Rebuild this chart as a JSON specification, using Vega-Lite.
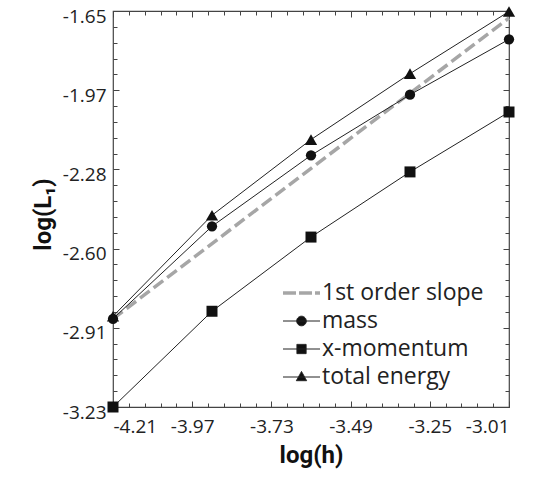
{
  "$schema": "https://vega.github.io/schema/vega-lite/v6.json",
  "autosize": "none",
  "width": 396,
  "height": 396,
  "padding": {"left": 113, "top": 11, "right": 27, "bottom": 77},
  "background": "white",
  "config": {
    "view": {"stroke": "#444", "strokeWidth": 1.2},
    "locale": {"number": {"decimal": ".", "thousands": ",", "grouping": [3], "currency": ["$", ""], "minus": "-"}},
    "axis": {"domain": false, "grid": false, "tickColor": "#444", "tickWidth": 1, "labelFont": "Open Sans", "labelFontSize": 19, "labelColor": "#222", "titleColor": "#111"},
    "legend": {"title": null, "orient": "none", "legendX": 168, "legendY": 269, "padding": 0, "symbolSize": 1369, "labelFont": "Open Sans", "labelFontSize": 23, "labelColor": "#222", "labelOffset": 0, "clipHeight": 26, "rowPadding": 2, "labelLimit": 300, "symbolOpacity": 1}
  },
  "data": {"values": [
    {"x": -4.21, "y": -2.878, "s": "1st order slope"},
    {"x": -3.01, "y": -1.678, "s": "1st order slope"},
    {"x": -4.21, "y": -2.878, "s": "mass"},
    {"x": -3.91, "y": -2.509, "s": "mass"},
    {"x": -3.61, "y": -2.226, "s": "mass"},
    {"x": -3.31, "y": -1.984, "s": "mass"},
    {"x": -3.01, "y": -1.763, "s": "mass"},
    {"x": -4.21, "y": -3.23, "s": "x-momentum"},
    {"x": -3.91, "y": -2.848, "s": "x-momentum"},
    {"x": -3.61, "y": -2.552, "s": "x-momentum"},
    {"x": -3.31, "y": -2.292, "s": "x-momentum"},
    {"x": -3.01, "y": -2.053, "s": "x-momentum"},
    {"x": -4.21, "y": -2.868, "s": "total energy"},
    {"x": -3.91, "y": -2.465, "s": "total energy"},
    {"x": -3.61, "y": -2.163, "s": "total energy"},
    {"x": -3.31, "y": -1.900, "s": "total energy"},
    {"x": -3.01, "y": -1.652, "s": "total energy"}
  ]},
  "resolve": {"axis": {"x": "independent", "y": "independent"}, "scale": {"shape": "independent", "size": "independent", "fill": "independent", "stroke": "independent", "strokeWidth": "independent", "strokeDash": "independent"}},
  "layer": [
    {
      "transform": [{"filter": "datum.s === '1st order slope'"}],
      "mark": {"type": "line", "color": "#a6a6a6", "strokeWidth": 3.5, "strokeDash": [12, 5]},
      "encoding": {
        "x": {"field": "x", "type": "quantitative", "scale": {"domain": [-4.21, -3.01], "nice": false, "zero": false},
          "axis": {"orient": "bottom", "offset": -6, "values": [-4.21, -3.97, -3.73, -3.49, -3.25, -3.01], "format": ".2f", "tickSize": 6, "labelPadding": 10, "title": "log(h)", "titleFont": "Roboto", "titleFontWeight": "bold", "titleFontSize": 24, "titleX": 198, "titleY": 54, "titleBaseline": "middle", "titleAlign": "center"}},
        "y": {"field": "y", "type": "quantitative", "scale": {"domain": [-3.23, -1.65], "nice": false, "zero": false},
          "axis": {"orient": "left", "offset": -6, "values": [-3.23, -2.914, -2.598, -2.282, -1.966, -1.65], "format": ".2f", "tickSize": 6, "labelPadding": 7, "labelOffset": 5, "title": "log(L₁)", "titleFont": "Roboto", "titleFontWeight": "bold", "titleFontSize": 24, "titleX": -76, "titleY": 203, "titleAngle": -90, "titleBaseline": "middle", "titleAlign": "center"}}
      }
    },
    {
      "transform": [{"filter": "datum.s !== '1st order slope'"}],
      "mark": {"type": "line", "color": "#222", "strokeWidth": 1},
      "encoding": {
        "detail": {"field": "s"},
        "x": {"field": "x", "type": "quantitative", "scale": {"domain": [-4.21, -3.01], "nice": false, "zero": false},
          "axis": {"orient": "top", "offset": -6, "values": [-4.21, -3.97, -3.73, -3.49, -3.25, -3.01], "tickSize": 6, "labels": false, "title": null}},
        "y": {"field": "y", "type": "quantitative", "scale": {"domain": [-3.23, -1.65], "nice": false, "zero": false},
          "axis": {"orient": "right", "offset": -6, "values": [-3.23, -2.914, -2.598, -2.282, -1.966, -1.65], "tickSize": 6, "labels": false, "title": null}}
      }
    },
    {
      "transform": [{"filter": "datum.s !== '1st order slope'"}],
      "mark": {"type": "point", "filled": true, "color": "#111", "opacity": 1},
      "encoding": {
        "x": {"field": "x", "type": "quantitative", "scale": {"domain": [-4.21, -3.01], "nice": false, "zero": false},
          "axis": {"orient": "bottom", "offset": -4, "values": [-4.162, -4.114, -4.066, -4.018, -3.922, -3.874, -3.826, -3.778, -3.682, -3.634, -3.586, -3.538, -3.442, -3.394, -3.346, -3.298, -3.202, -3.154, -3.106, -3.058], "tickSize": 4, "labels": false, "title": null}},
        "y": {"field": "y", "type": "quantitative", "scale": {"domain": [-3.23, -1.65], "nice": false, "zero": false},
          "axis": {"orient": "left", "offset": -4, "values": [-3.1668, -3.1036, -3.0404, -2.9772, -2.8508, -2.7876, -2.7244, -2.6612, -2.5348, -2.4716, -2.4084, -2.3452, -2.2188, -2.1556, -2.0924, -2.0292, -1.9028, -1.8396, -1.7764, -1.7132], "tickSize": 4, "labels": false, "title": null}},
        "shape": {"field": "s", "type": "nominal", "scale": {"domain": ["mass", "x-momentum", "total energy"], "range": ["circle", "square", "triangle-up"]}, "legend": null},
        "size": {"field": "s", "type": "nominal", "scale": {"type": "ordinal", "domain": ["mass", "x-momentum", "total energy"], "range": [105, 121, 150]}, "legend": null}
      }
    },
    {
      "mark": {"type": "point", "opacity": 0},
      "encoding": {
        "x": {"field": "x", "type": "quantitative", "scale": {"domain": [-4.21, -3.01], "nice": false, "zero": false},
          "axis": {"orient": "top", "offset": -4, "values": [-4.162, -4.114, -4.066, -4.018, -3.922, -3.874, -3.826, -3.778, -3.682, -3.634, -3.586, -3.538, -3.442, -3.394, -3.346, -3.298, -3.202, -3.154, -3.106, -3.058], "tickSize": 4, "labels": false, "title": null}},
        "y": {"field": "y", "type": "quantitative", "scale": {"domain": [-3.23, -1.65], "nice": false, "zero": false},
          "axis": {"orient": "right", "offset": -4, "values": [-3.1668, -3.1036, -3.0404, -2.9772, -2.8508, -2.7876, -2.7244, -2.6612, -2.5348, -2.4716, -2.4084, -2.3452, -2.2188, -2.1556, -2.0924, -2.0292, -1.9028, -1.8396, -1.7764, -1.7132], "tickSize": 4, "labels": false, "title": null}},
        "fill": {"field": "s", "type": "nominal", "scale": {"domain": ["1st order slope", "mass", "x-momentum", "total energy"], "range": ["transparent", "#111", "#111", "#111"]}},
        "stroke": {"field": "s", "type": "nominal", "scale": {"domain": ["1st order slope", "mass", "x-momentum", "total energy"], "range": ["#a6a6a6", "#222", "#222", "#222"]}},
        "strokeWidth": {"field": "s", "type": "nominal", "scale": {"type": "ordinal", "domain": ["1st order slope", "mass", "x-momentum", "total energy"], "range": [3.5, 1, 1, 1]}},
        "strokeDash": {"field": "s", "type": "nominal", "scale": {"domain": ["1st order slope", "mass", "x-momentum", "total energy"], "range": [[13, 3], [1, 0], [1, 0], [1, 0]]}},
        "shape": {"field": "s", "type": "nominal",
          "scale": {"domain": ["1st order slope", "mass", "x-momentum", "total energy"],
            "range": ["M-1,0H1", "M-1,0H1M0.26,0A0.26,0.26,0,1,1,-0.26,0A0.26,0.26,0,1,1,0.26,0Z", "M-1,0H1M-0.25,-0.25H0.25V0.25H-0.25Z", "M-1,0H1M0,-0.3L0.28,0.2H-0.28Z"]}}
      }
    }
  ]
}
